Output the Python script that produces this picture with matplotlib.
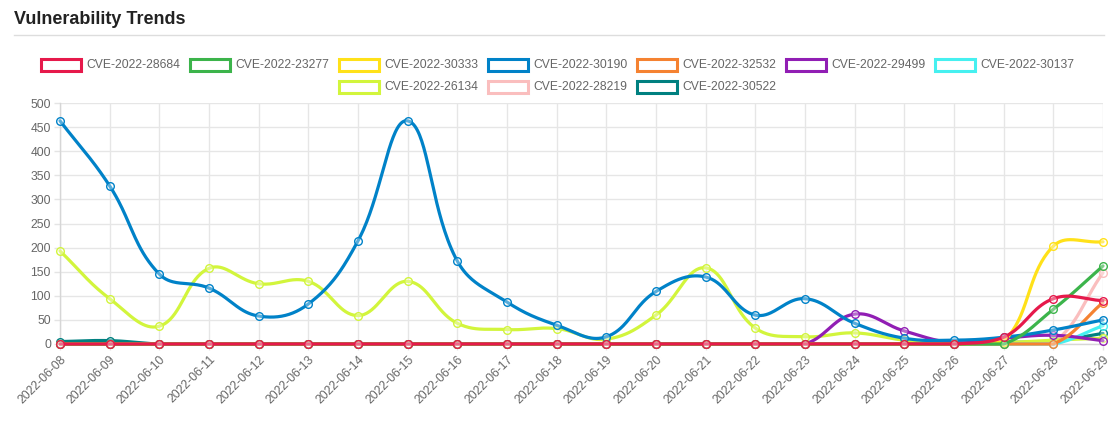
import numpy as np
import matplotlib
matplotlib.use('Agg')
import matplotlib.pyplot as plt
from matplotlib.patches import Rectangle
from matplotlib.lines import Line2D

plt.rcParams['font.family'] = ['Liberation Sans', 'DejaVu Sans']

dates = ["2022-06-08", "2022-06-09", "2022-06-10", "2022-06-11", "2022-06-12",
         "2022-06-13", "2022-06-14", "2022-06-15", "2022-06-16", "2022-06-17",
         "2022-06-18", "2022-06-19", "2022-06-20", "2022-06-21", "2022-06-22",
         "2022-06-23", "2022-06-24", "2022-06-25", "2022-06-26", "2022-06-27",
         "2022-06-28", "2022-06-29"]

series_names = ["CVE-2022-28684", "CVE-2022-23277", "CVE-2022-30333", "CVE-2022-30190",
                "CVE-2022-32532", "CVE-2022-29499", "CVE-2022-30137", "CVE-2022-26134",
                "CVE-2022-28219", "CVE-2022-30522"]

cve_28684 = [0, 0, 0, 0, 0, 0, 0, 0, 0, 0, 0, 0, 0, 0, 0, 0, 0, 0, 0, 14, 94, 90]
cve_23277 = [0, 0, 0, 0, 0, 0, 0, 0, 0, 0, 0, 0, 0, 0, 0, 0, 0, 0, 0, 0, 72, 162]
cve_30333 = [0, 0, 0, 0, 0, 0, 0, 0, 0, 0, 0, 0, 0, 0, 0, 0, 0, 0, 0, 5, 203, 212]
cve_30190 = [463, 328, 145, 116, 58, 83, 214, 463, 172, 87, 39, 15, 109, 139, 60, 94,
             43, 12, 8, 14, 29, 50]
cve_32532 = [0, 0, 0, 0, 0, 0, 0, 0, 0, 0, 0, 0, 0, 0, 0, 0, 0, 0, 0, 0, 0, 86]
cve_29499 = [0, 0, 0, 0, 0, 0, 0, 0, 0, 0, 0, 0, 0, 0, 0, 0, 62, 27, 3, 12, 18, 7]
cve_30137 = [0, 0, 0, 0, 0, 0, 0, 0, 0, 0, 0, 0, 0, 0, 0, 0, 0, 0, 0, 0, 0, 38]
cve_26134 = [193, 94, 37, 157, 125, 130, 59, 130, 43, 30, 32, 10, 60, 158, 33, 15,
             23, 8, 3, 3, 8, 12]
cve_28219 = [0, 0, 0, 0, 0, 0, 0, 0, 0, 0, 0, 0, 0, 0, 0, 0, 0, 0, 0, 0, 3, 148]
cve_30522 = [5, 7, 0, 0, 0, 0, 0, 0, 0, 0, 0, 0, 0, 0, 0, 0, 0, 0, 0, 3, 6, 22]

series_values = [cve_28684, cve_23277, cve_30333, cve_30190, cve_32532,
                 cve_29499, cve_30137, cve_26134, cve_28219, cve_30522]

colors = ["#e6194b", "#3cb44b", "#ffe119", "#0082c8", "#f58231",
          "#911eb4", "#46f0f0", "#d2f53c", "#fabebe", "#008080"]

y_ticks = [0, 50, 100, 150, 200, 250, 300, 350, 400, 450, 500]

W, H = 1118, 428
fig = plt.figure(figsize=(W / 100, H / 100), dpi=100)
fig.patch.set_facecolor('white')

# title and separator
fig.text(14 / W, 1 - 19 / H, "Vulnerability Trends", fontsize=13, fontweight='bold',
         color='#222222', ha='left', va='center')
fig.add_artist(Line2D([14 / W, 1104 / W], [1 - 34.5 / H, 1 - 34.5 / H],
                      color='#dddddd', lw=1, transform=fig.transFigure))

ax = fig.add_axes([60 / W, 1 - 344 / H, (1103 - 60) / W, (344 - 103) / H])
x = np.arange(len(dates))
ax.set_xlim(0, len(dates) - 1)
ax.set_ylim(0, 500)
ax.set_xticks(x)
ax.set_xticklabels(dates, rotation=45, ha='right', va='top', rotation_mode='anchor')
ax.set_yticks(y_ticks)
ax.set_yticklabels([str(v) for v in y_ticks])
ax.tick_params(axis='both', colors='#e4e4e4', labelcolor='#666666', labelsize=8.7,
               length=4, width=1)
ax.tick_params(axis='y', pad=2.5)
ax.tick_params(axis='x', pad=3)
ax.grid(True, color='#e6e6e6', lw=1)
ax.set_axisbelow(True)
for s in ['top', 'right']:
    ax.spines[s].set_visible(False)
for s in ['left', 'bottom']:
    ax.spines[s].set_color('#d6d6d6')
    ax.spines[s].set_linewidth(1)

fig.canvas.draw()
T = ax.transData
bb = ax.bbox
xmin_px, xmax_px, ymin_px, ymax_px = bb.x0, bb.x1, bb.y0, bb.y1


def spline_curve(xs, ys, tension=0.4, n=40):
    pts = T.transform(np.column_stack([xs, ys]))
    m = len(pts)
    cp_prev = np.zeros_like(pts)
    cp_next = np.zeros_like(pts)
    for i in range(m):
        cur = pts[i]
        prev = pts[i - 1] if i > 0 else cur
        nxt = pts[i + 1] if i < m - 1 else cur
        d01 = np.hypot(*(cur - prev))
        d12 = np.hypot(*(nxt - cur))
        tot = d01 + d12
        s01 = d01 / tot if tot else 0
        s12 = d12 / tot if tot else 0
        fa = tension * s01
        fb = tension * s12
        cp_prev[i] = cur - fa * (nxt - prev)
        cp_next[i] = cur + fb * (nxt - prev)
    for arr in (cp_prev, cp_next):
        arr[:, 0] = np.clip(arr[:, 0], xmin_px, xmax_px)
        arr[:, 1] = np.clip(arr[:, 1], ymin_px, ymax_px)
    out = [pts[0]]
    t = np.linspace(0, 1, n)[1:, None]
    for i in range(m - 1):
        p0, p1, p2, p3 = pts[i], cp_next[i], cp_prev[i + 1], pts[i + 1]
        seg = ((1 - t) ** 3) * p0 + 3 * ((1 - t) ** 2) * t * p1 + 3 * (1 - t) * t ** 2 * p2 + t ** 3 * p3
        out.extend(seg)
    out = np.array(out)
    data = T.inverted().transform(out)
    return data[:, 0], data[:, 1]


nser = len(series_values)
for i, (vals, col) in enumerate(zip(series_values, colors)):
    z = 10 + (nser - i) * 2
    cx, cy = spline_curve(x, np.array(vals, dtype=float))
    ax.plot(cx, cy, color=col, lw=2.3, zorder=z, clip_on=False, solid_capstyle='round')
    ax.plot(x, vals, ls='none', marker='o', ms=5.5, mew=1.0, mec=col,
            mfc=(1, 1, 1, 0.35), zorder=z + 1, clip_on=False)

# legend (Chart.js style, centered rows)
rows = [list(range(0, 7)), list(range(7, 10))]
row_y = [65, 87]
item_w = 149
for r, idxs in enumerate(rows):
    start = W / 2 - len(idxs) * item_w / 2 + 3
    yc = row_y[r]
    for k, i in enumerate(idxs):
        bx = start + k * item_w
        fig.add_artist(Rectangle((bx / W, 1 - (yc + 6) / H), 40 / W, 12 / H,
                                 transform=fig.transFigure, facecolor='white',
                                 edgecolor=colors[i], lw=2.2))
        fig.text((bx + 46) / W, 1 - yc / H, series_names[i], fontsize=8.7,
                 color='#666666', ha='left', va='center')

fig.savefig('out.png', dpi=100, facecolor='white')
